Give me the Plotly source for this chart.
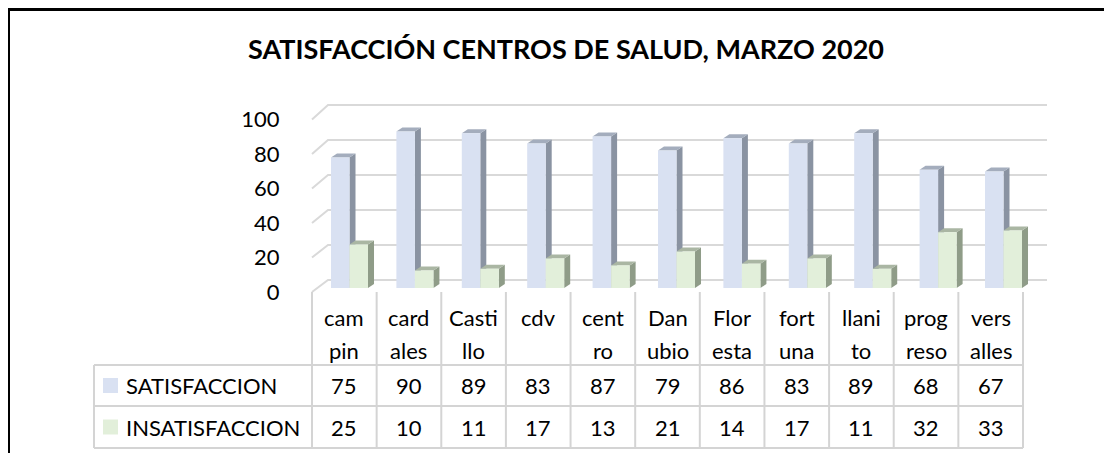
import plotly.graph_objects as go

# ---------------- data ----------------
categories = ["campin", "cardales", "Castillo", "cdv", "centro", "Danubio",
              "Floresta", "fortuna", "llanito", "progreso", "versalles"]
cat_line1 = ["cam", "card", "Casti", "cdv", "cent", "Dan", "Flor", "fort", "llani", "prog", "vers"]
cat_line2 = ["pin", "ales", "llo", "", "ro", "ubio", "esta", "una", "to", "reso", "alles"]
series_names = ["SATISFACCION", "INSATISFACCION"]
satisfaccion = [75, 90, 89, 83, 87, 79, 86, 83, 89, 68, 67]
insatisfaccion = [25, 10, 11, 17, 13, 21, 14, 17, 11, 32, 33]
y_ticks = [0, 20, 40, 60, 80, 100]
title_text = "SATISFACCIÓN CENTROS DE SALUD, MARZO 2020"

# ---------------- geometry / style ----------------
OX, OY = 8, 8          # page offset of the figure div (body margin)
W, H = 1096, 445       # figure size
FONT = "Lato"

def px(sx):
    return (sx - OX) / W

def py(sy):
    return 1 - (sy - OY) / H

front_colors = ["#D9E1F2", "#E2EFDA"]
side_colors = ["#8A93A2", "#8F9C88"]
top_colors = ["#A4ADBD", "#AAB6A3"]
GRID = "#D9D9D9"
TABLE = "#D4D4D4"

n = len(categories)
# bar plot area (mid depth)
BAR_X0, BAR_X1 = 316.8, 1036.2
BAR_Y0, BAR_Y100 = 288, 114
# gridline walls
FRONT_X, FRONT_Y0, FRONT_Y100 = 312, 292, 119.5
BACK_X, BACK_X1, BACK_Y0, BACK_Y100 = 328, 1047, 280, 105
# table
TAB_X0, TAB_X1 = 312, 1023
TAB_LEFT = 94
ROW_TOP, ROW1, ROW2, ROW_BOT = 292, 365, 406, 448
col_w = (TAB_X1 - TAB_X0) / n

BARGAP = 0.434
bw = (1 - BARGAP) / 2
DX = 6 / ((BAR_X1 - BAR_X0) / n)          # depth in category units
DY = 4 / ((BAR_Y0 - BAR_Y100) / 100)       # depth in value units

fig = go.Figure()

# dummy trace for the front value axis (tick labels)
fig.add_trace(go.Scatter(x=[None], y=[None], xaxis="x", yaxis="y",
                         showlegend=False, hoverinfo="skip"))

shapes = []
annotations = []

# 3D faces + bars
for s, (name, vals) in enumerate(zip(series_names, [satisfaccion, insatisfaccion])):
    xs = list(range(n))
    fig.add_trace(go.Bar(x=xs, y=vals, name=name, xaxis="x2", yaxis="y2",
                         marker=dict(color=front_colors[s], line=dict(width=0)),
                         showlegend=False))
    for i, v in enumerate(vals):
        xl = i - bw + s * bw
        xr = xl + bw
        side = f"M {xr},0 L {xr},{v} L {xr+DX},{v+DY} L {xr+DX},{DY} Z"
        top = f"M {xl},{v} L {xr},{v} L {xr+DX},{v+DY} L {xl+DX},{v+DY} Z"
        shapes.append(dict(type="path", path=side, xref="x2", yref="y2",
                           fillcolor=side_colors[s], line=dict(width=0), layer="below"))
        shapes.append(dict(type="path", path=top, xref="x2", yref="y2",
                           fillcolor=top_colors[s], line=dict(width=0), layer="below"))

# gridlines (back wall + side diagonal)
for t in y_ticks:
    fy = FRONT_Y0 + (FRONT_Y100 - FRONT_Y0) * t / 100
    by = BACK_Y0 + (BACK_Y100 - BACK_Y0) * t / 100
    path = (f"M {px(FRONT_X)},{py(fy)} L {px(BACK_X)},{py(by)} "
            f"L {px(BACK_X1)},{py(by)}")
    shapes.append(dict(type="path", path=path, xref="paper", yref="paper",
                       line=dict(color=GRID, width=2), layer="below"))

# table lines
for k in range(n + 1):
    x = TAB_X0 + col_w * k
    shapes.append(dict(type="line", xref="paper", yref="paper",
                       x0=px(x), x1=px(x), y0=py(ROW_TOP), y1=py(ROW_BOT),
                       line=dict(color=TABLE, width=2), layer="below"))
for yy in [ROW1, ROW2, ROW_BOT]:
    shapes.append(dict(type="line", xref="paper", yref="paper",
                       x0=px(TAB_LEFT), x1=px(TAB_X1), y0=py(yy), y1=py(yy),
                       line=dict(color=TABLE, width=2), layer="below"))
shapes.append(dict(type="line", xref="paper", yref="paper",
                   x0=px(TAB_LEFT), x1=px(TAB_LEFT), y0=py(ROW1), y1=py(ROW_BOT),
                   line=dict(color=TABLE, width=2), layer="below"))

# border of the chart area (top edge clipped by the page offset)
shapes.append(dict(type="line", xref="paper", yref="paper",
                   x0=0, x1=1, y0=py(9.5), y1=py(9.5),
                   line=dict(color="black", width=3)))
shapes.append(dict(type="line", xref="paper", yref="paper",
                   x0=px(8.5), x1=px(8.5), y0=1, y1=0,
                   line=dict(color="black", width=3)))

tfont = dict(family=FONT, size=22, color="black")
# category labels
for i in range(n):
    cx = px(TAB_X0 + col_w * (i + 0.5))
    annotations.append(dict(x=cx, y=py(317), xref="paper", yref="paper", text=cat_line1[i],
                            showarrow=False, xanchor="center", yanchor="middle", font=tfont))
    if cat_line2[i]:
        annotations.append(dict(x=cx, y=py(350), xref="paper", yref="paper", text=cat_line2[i],
                                showarrow=False, xanchor="center", yanchor="middle", font=tfont))
    for rowy, vals in [(385.5, satisfaccion), (427, insatisfaccion)]:
        annotations.append(dict(x=cx, y=py(rowy), xref="paper", yref="paper", text=str(vals[i]),
                                showarrow=False, xanchor="center", yanchor="middle", font=tfont))

# row labels with legend keys
for s, (name, rowy) in enumerate(zip(series_names, [385.5, 427])):
    shapes.append(dict(type="rect", xref="paper", yref="paper",
                       x0=px(103), x1=px(118), y0=py(rowy - 7.5), y1=py(rowy + 7.5),
                       fillcolor=front_colors[s], line=dict(width=0)))
    annotations.append(dict(x=px(124), y=py(rowy), xref="paper", yref="paper", text=name,
                            showarrow=False, xanchor="left", yanchor="middle", font=tfont))

# title
annotations.append(dict(x=px(566), y=py(49), xref="paper", yref="paper",
                        text=f"<b>{title_text}</b>", showarrow=False,
                        xanchor="center", yanchor="middle",
                        font=dict(family=FONT, size=27, color="black")))

fig.update_layout(
    width=W, height=H, autosize=False,
    margin=dict(l=0, r=0, t=0, b=0, pad=0, autoexpand=False),
    paper_bgcolor="white", plot_bgcolor="rgba(0,0,0,0)",
    barmode="group", bargap=BARGAP, bargroupgap=0,
    xaxis=dict(domain=[px(FRONT_X), px(BAR_X1)], visible=False, range=[0, 1],
               anchor="y", fixedrange=True, automargin=False),
    yaxis=dict(domain=[py(FRONT_Y0), py(FRONT_Y100)], range=[0, 100],
               tickvals=y_ticks, ticktext=[str(t) for t in y_ticks],
               ticks="outside", ticklen=27, tickcolor="rgba(0,0,0,0)",
               showgrid=False, zeroline=False, showline=False,
               tickfont=dict(family=FONT, size=22, color="black"),
               anchor="x", fixedrange=True, automargin=False),
    xaxis2=dict(domain=[px(BAR_X0), px(BAR_X1)], range=[-0.5, n - 0.5],
                visible=False, anchor="y2", fixedrange=True, automargin=False),
    yaxis2=dict(domain=[py(BAR_Y0), py(BAR_Y100)], range=[0, 100],
                visible=False, anchor="x2", fixedrange=True, automargin=False),
    shapes=shapes, annotations=annotations,
    showlegend=False,
)

fig.write_html("out.html")
